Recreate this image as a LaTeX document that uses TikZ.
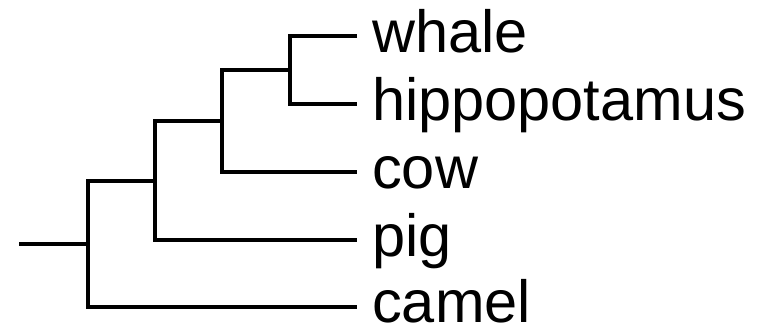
\documentclass[tikz,border=0pt]{standalone}
\usepackage{fontspec}
\setmainfont{Liberation Sans}
\begin{document}
\begin{tikzpicture}[x=1pt,y=-1pt,
  branch/.style={draw=black,line width=3.2pt},
  leaf/.style={anchor=base west,inner sep=0pt,font=\fontsize{59.5}{59.5}\selectfont}]
\useasboundingbox (0,0) rectangle (770,330);
% leaf ends
\coordinate (wE) at (357,36);
\coordinate (hE) at (357,104);
\coordinate (cE) at (357,172);
\coordinate (pE) at (357,240);
\coordinate (kE) at (357,307);
% internal nodes
\coordinate (A) at (290,70);
\coordinate (B) at (222,121);
\coordinate (C) at (155,181);
\coordinate (D) at (88,244);
\coordinate (R) at (19,244);
% labels
\node[leaf] (whale) at (372,52) {whale};
\node[leaf] (hippo) at (372,120) {hippopotamus};
\node[leaf] (cow) at (372,188) {cow};
\node[leaf] (pig) at (372,256) {pig};
\node[leaf] (camel) at (372,322) {camel};
% branches
\draw[branch] (wE) -| (A) |- (hE);
\draw[branch] (A) -| (B) |- (cE);
\draw[branch] (B) -| (C) |- (pE);
\draw[branch] (C) -| (D) |- (kE);
\draw[branch] (D) -- (R);
\end{tikzpicture}
\end{document}
